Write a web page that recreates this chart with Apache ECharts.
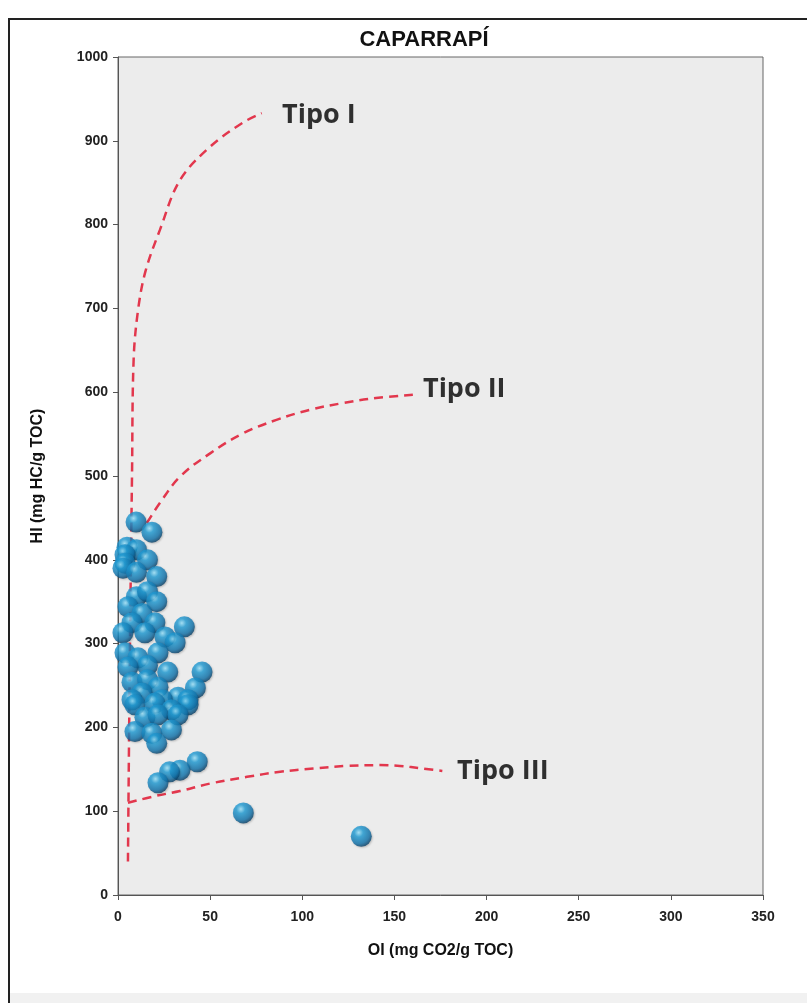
<!DOCTYPE html>
<html>
<head>
<meta charset="utf-8">
<script src="https://cdn.jsdelivr.net/npm/echarts@6/dist/echarts.min.js"></script>
<style>
  html, body { margin: 0; padding: 0; background: #fff; }
  #main { width: 807px; height: 1003px; }
</style>
</head>
<body>
<div id="main"></div>
<script>
// muestras: OI (x) y HI (y)
var oiValues = [9.8, 18.4, 4.9, 10, 3.8, 3.8, 16, 2.7, 10, 21, 10, 16, 21,
  5.4, 13, 7.6, 20, 36, 2.7, 14.6, 25.5, 31, 3.8, 10.8, 21.7, 16, 5.4, 27, 45.6,
  7.6, 16, 21.7, 42, 13, 32.6, 7.6, 38, 24,
  9.2, 20, 38, 29, 14.6, 21.7, 32.6, 9.2, 18.4, 29, 21, 43, 33.6, 28, 21.7,
  68, 132]
var hiValues = [445, 433, 415, 412, 406, 396, 400, 390, 385, 380, 356, 362, 350,
  344, 336, 325, 325, 320, 313, 313, 308, 301, 289, 283, 289, 274, 272, 266, 266,
  254, 257, 248, 247, 241, 236, 233, 233, 233,
  227, 229, 227, 221, 212, 215, 215, 195, 193, 197, 181, 159, 149, 147, 134,
  98, 70]

// curvas de tipo de kerógeno
var tipoI = [[5.4, 40], [6.5, 300], [7.6, 500], [8.5, 640], [11, 700], [15, 745],
  [22.8, 794], [33.6, 853], [50, 893], [68, 922], [78, 933]]
var tipoII = [[15.7, 444], [22.8, 468], [33.6, 499], [50, 527], [68, 551], [86, 567],
  [104, 579], [122, 587], [140, 593], [160, 597]]
var tipoIII = [[5.4, 110], [20, 118], [33.6, 124], [50, 133], [70, 141], [88, 147],
  [106, 151], [124, 154], [142, 155], [153, 154], [165, 151], [176, 148]]

var tipoNames = ['Tipo I', 'Tipo II', 'Tipo III']
var tipoLabelAt = [[89, 931], [165.5, 603], [184, 148]]

var xTicks = [0, 350, 50]
var yTicks = [0, 1000, 100]

var myChart = echarts.init(document.getElementById('main'))

var points = oiValues.map(function (x, i) { return [x, hiValues[i]] })
var labelData = tipoLabelAt.map(function (p, i) { return { value: p, name: tipoNames[i] } })

var dashRed = { color: '#e2374d', width: 2.5, type: [9, 6] }

var option = {
  backgroundColor: '#fff',
  animation: false,
  title: {
    text: 'CAPARRAPÍ',
    left: 419,
    top: 24,
    textAlign: 'center',
    textStyle: { fontFamily: 'Liberation Sans, Arial', fontSize: 22, fontWeight: 'bold', color: '#111' }
  },
  graphic: [
    { type: 'rect', shape: { x: 9, y: 19, width: 810, height: 1000 },
      style: { fill: 'none', stroke: '#222', lineWidth: 2 }, z: -10 },
    { type: 'rect', shape: { x: 10, y: 993, width: 800, height: 12 },
      style: { fill: '#f1f1f1' }, z: -11 }
  ],
  grid: {
    left: 118, right: 44, top: 57, bottom: 108,
    show: true, backgroundColor: '#ececec', borderColor: '#666', borderWidth: 1
  },
  xAxis: {
    type: 'value', min: xTicks[0], max: xTicks[1], interval: xTicks[2],
    name: 'OI (mg CO2/g TOC)', nameLocation: 'middle', nameGap: 48,
    nameTextStyle: { fontFamily: 'Liberation Sans, Arial', fontSize: 16, fontWeight: 'bold', color: '#111' },
    axisLine: { lineStyle: { color: '#555', width: 1 } },
    axisTick: { show: true, length: 5, lineStyle: { color: '#555' } },
    axisLabel: { margin: 15, fontFamily: 'Liberation Sans, Arial', fontSize: 14, fontWeight: 'bold', color: '#222' },
    splitLine: { show: false }
  },
  yAxis: {
    type: 'value', min: yTicks[0], max: yTicks[1], interval: yTicks[2],
    name: 'HI (mg HC/g TOC)', nameLocation: 'middle', nameGap: 72,
    nameTextStyle: { fontFamily: 'Liberation Sans, Arial', fontSize: 16, fontWeight: 'bold', color: '#111' },
    axisLine: { show: true, lineStyle: { color: '#555', width: 1 } },
    axisTick: { show: true, length: 5, lineStyle: { color: '#555' } },
    axisLabel: {
      margin: 10, fontFamily: 'Liberation Sans, Arial', fontSize: 14, fontWeight: 'bold', color: '#222',
      formatter: function (v) { return String(v) }
    },
    splitLine: { show: false }
  },
  series: [
    { name: 'Tipo I', type: 'line', data: tipoI, smooth: 0.35, showSymbol: false, lineStyle: dashRed, z: 3 },
    { name: 'Tipo II', type: 'line', data: tipoII, smooth: 0.4, showSymbol: false, lineStyle: dashRed, z: 3 },
    { name: 'Tipo III', type: 'line', data: tipoIII, smooth: 0.4, showSymbol: false, lineStyle: dashRed, z: 3 },
    {
      name: 'muestras', type: 'scatter', data: points, symbolSize: 21, z: 4,
      itemStyle: {
        color: new echarts.graphic.RadialGradient(0.38, 0.32, 0.7, [
          { offset: 0, color: '#9ee6ff' },
          { offset: 0.3, color: '#229fd8' },
          { offset: 0.75, color: '#1174ad' },
          { offset: 1, color: '#083f66' }
        ]),
        shadowBlur: 2, shadowColor: 'rgba(0,0,0,0.25)', shadowOffsetX: 1, shadowOffsetY: 1
      }
    },
    {
      name: 'tipos', type: 'scatter', data: labelData, symbolSize: 0, silent: true, z: 5,
      label: {
        show: true, position: 'right', distance: 0,
        formatter: function (p) { return p.name },
        fontFamily: 'Open Sans, Lato, sans-serif', fontSize: 27, fontWeight: 'bold', color: '#000'
      }
    }
  ]
}
myChart.setOption(option)
</script>
</body>
</html>
